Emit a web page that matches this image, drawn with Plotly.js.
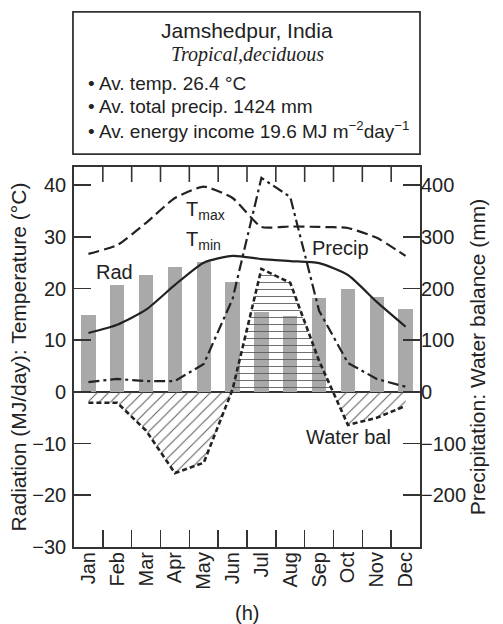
<!DOCTYPE html>
<html>
<head>
<meta charset="utf-8">
<script src="https://cdn.plot.ly/plotly-3.0.1.min.js"></script>
<style>html,body{margin:0;padding:0;background:#fff;}#chart{width:503px;height:624px;}</style>
</head>
<body>
<div id="chart"></div>
<script>
// ---- data ----
const months = ["Jan","Feb","Mar","Apr","May","Jun","Jul","Aug","Sep","Oct","Nov","Dec"];
const monthIdx = [1,2,3,4,5,6,7,8,9,10,11,12];
const monthEdges = [1.5,2.5,3.5,4.5,5.5,6.5,7.5,8.5,9.5,10.5,11.5];
const radiation = [14.9, 20.7, 22.6, 24.2, 25.1, 21.3, 15.5, 14.7, 18.2, 19.9, 18.4, 16.1]; // MJ/day
const tmax = [26.7, 28.4, 32.7, 37.5, 39.7, 37.5, 31.9, 32.0, 31.9, 31.7, 29.8, 26.3];     // °C
const tmin = [11.4, 13.0, 15.9, 20.7, 25.0, 26.3, 25.7, 25.3, 24.9, 22.6, 17.4, 12.6];     // °C
const precip = [19, 25, 21, 21, 54, 180, 414, 377, 157, 56, 25, 10];                       // mm
const waterBal = [-21, -21, -75, -157, -137, 5, 238, 211, 60, -64, -50, -27];              // mm
const leftTicks = [-30, -20, -10, 0, 10, 20, 30, 40];
const rightTicks = [-200, -100, 0, 100, 200, 300, 400];

// split water balance into positive / negative parts for the hatched fills
function splitSign(xs, ys, positive) {
  const ox = [], oy = [];
  for (let i = 0; i < xs.length; i++) {
    const v = ys[i];
    ox.push(xs[i]);
    oy.push(positive ? Math.max(v, 0) : Math.min(v, 0));
    if (i < xs.length - 1) {
      const a = ys[i], b = ys[i + 1];
      if ((a > 0 && b < 0) || (a < 0 && b > 0)) {
        const t = a / (a - b);
        ox.push(xs[i] + t * (xs[i + 1] - xs[i]));
        oy.push(0);
      }
    }
  }
  return {x: ox, y: oy};
}
const neg = splitSign(monthIdx, waterBal, false);
const pos = splitSign(monthIdx, waterBal, true);

const ink = '#222';
const F = 'Liberation Sans, Arial, Helvetica, sans-serif';

const traces = [
  {type: 'bar', x: monthIdx, y: radiation, width: 0.5, marker: {color: '#a9a9a9', line: {width: 0}},
   xaxis: 'x', yaxis: 'y', hoverinfo: 'skip', showlegend: false},
  {type: 'scatter', mode: 'lines', x: neg.x, y: neg.y, xaxis: 'x', yaxis: 'y2', line: {width: 0},
   fill: 'tozeroy', fillcolor: 'rgba(0,0,0,0)',
   fillpattern: {shape: '/', fgcolor: '#555', bgcolor: 'rgba(0,0,0,0)', size: 8, solidity: 0.12},
   hoverinfo: 'skip', showlegend: false},
  {type: 'scatter', mode: 'lines', x: pos.x, y: pos.y, xaxis: 'x', yaxis: 'y2', line: {width: 0},
   fill: 'tozeroy', fillcolor: 'rgba(0,0,0,0)',
   fillpattern: {shape: '-', fgcolor: '#555', bgcolor: 'rgba(0,0,0,0)', size: 7, solidity: 0.12},
   hoverinfo: 'skip', showlegend: false},
  {type: 'scatter', mode: 'lines', x: monthIdx, y: precip, xaxis: 'x', yaxis: 'y2',
   line: {color: ink, width: 2.2, dash: '11px,4px,3px,4px'}, showlegend: false},
  {type: 'scatter', mode: 'lines', x: monthIdx, y: waterBal, xaxis: 'x', yaxis: 'y2',
   line: {color: ink, width: 2.6, dash: '5px,3px'}, showlegend: false},
  {type: 'scatter', mode: 'lines', x: monthIdx, y: tmax, xaxis: 'x2', yaxis: 'y',
   line: {color: ink, width: 2.2, dash: '11px,5px', shape: 'spline', smoothing: 0.5}, showlegend: false},
  {type: 'scatter', mode: 'lines', x: monthIdx, y: tmin, xaxis: 'x2', yaxis: 'y',
   line: {color: ink, width: 2.2, shape: 'spline', smoothing: 0.6}, showlegend: false}
];

// inward tick marks along the top frame at the month boundaries
const topTicks = monthEdges.map(e => ({
  type: 'line', xref: 'x', yref: 'paper', x0: e, x1: e, y0: 1, y1: 1 - 15 / 380,
  layer: 'above', line: {color: '#333', width: 1.6}
}));

const layout = {
  width: 503, height: 624,
  margin: {l: 74, r: 83, t: 167, b: 77, pad: 0},
  paper_bgcolor: '#fff', plot_bgcolor: '#fff',
  font: {family: F, size: 20, color: ink},
  showlegend: false,
  bargap: 0,
  xaxis: {
    range: [0.5, 12.5], tickmode: 'array', tickvals: monthEdges, showticklabels: false,
    ticks: 'inside', ticklen: 17, tickwidth: 1.6, tickcolor: '#333',
    showgrid: false, zeroline: false,
    showline: true, mirror: true, linecolor: '#333', linewidth: 1.8,
    fixedrange: true
  },
  xaxis2: {
    overlaying: 'x', anchor: 'y', side: 'bottom',
    range: [0.5, 12.5], tickmode: 'array', tickvals: monthIdx, ticktext: months,
    tickangle: -90, ticks: '', showgrid: false, zeroline: false, showline: false,
    tickfont: {family: F, size: 20, color: ink}, fixedrange: true
  },
  yaxis: {
    range: [-30, 43.5], tickmode: 'array', tickvals: leftTicks,
    ticks: 'inside', ticklen: 17, tickwidth: 1.6, tickcolor: '#333',
    showgrid: false, zeroline: true, zerolinecolor: '#333', zerolinewidth: 1.5,
    showline: true, mirror: true, linecolor: '#333', linewidth: 1.8,
    ticklabelstandoff: 2,
    title: {text: 'Radiation (MJ/day): Temperature (°C)', font: {family: F, size: 21, color: ink}, standoff: 0},
    tickfont: {family: F, size: 20, color: ink}, fixedrange: true
  },
  yaxis2: {
    overlaying: 'y', side: 'right', range: [-300, 435], tickmode: 'array', tickvals: rightTicks,
    ticks: 'inside', ticklen: 17, tickwidth: 1.6, tickcolor: '#333',
    showgrid: false, zeroline: false, showline: false,
    ticklabelstandoff: 0,
    title: {text: 'Precipitation: Water balance (mm)', font: {family: F, size: 21, color: ink}, standoff: 0},
    tickfont: {family: F, size: 20, color: ink}, fixedrange: true
  },
  shapes: [
    {type: 'rect', xref: 'paper', yref: 'paper', x0: -0.003, x1: 1.0, y0: 1.034, y1: 1.408,
     line: {color: '#333', width: 1.8}, fillcolor: 'rgba(0,0,0,0)'}
  ].concat(topTicks),
  annotations: [
    {xref: 'paper', yref: 'paper', x: 0.5, y: 1.358, text: 'Jamshedpur, India', showarrow: false,
     xanchor: 'center', yanchor: 'middle', font: {family: F, size: 21, color: ink}},
    {xref: 'paper', yref: 'paper', x: 0.5, y: 1.295, text: '<i>Tropical,deciduous</i>', showarrow: false,
     xanchor: 'center', yanchor: 'middle', font: {family: 'Liberation Serif, Times New Roman, serif', size: 20, color: ink}},
    {xref: 'paper', yref: 'paper', x: 0.035, y: 1.221, text: '• Av. temp. 26.4 °C', showarrow: false,
     xanchor: 'left', yanchor: 'middle', font: {family: F, size: 19, color: ink}},
    {xref: 'paper', yref: 'paper', x: 0.035, y: 1.158, text: '• Av. total precip. 1424 mm', showarrow: false,
     xanchor: 'left', yanchor: 'middle', font: {family: F, size: 19, color: ink}},
    {xref: 'paper', yref: 'paper', x: 0.035, y: 1.097, text: '• Av. energy income 19.6 MJ m<sup>−2</sup>day<sup>−1</sup>', showarrow: false,
     xanchor: 'left', yanchor: 'middle', font: {family: F, size: 19, color: ink}},
    {xref: 'x', yref: 'y', x: 4.32, y: 35.0, text: 'T<sub>max</sub>', showarrow: false,
     xanchor: 'left', yanchor: 'middle', font: {family: F, size: 20, color: ink}},
    {xref: 'x', yref: 'y', x: 4.32, y: 29.2, text: 'T<sub>min</sub>', showarrow: false,
     xanchor: 'left', yanchor: 'middle', font: {family: F, size: 20, color: ink}},
    {xref: 'x', yref: 'y', x: 1.92, y: 23.2, text: 'Rad', showarrow: false,
     xanchor: 'center', yanchor: 'middle', font: {family: F, size: 20, color: ink}},
    {xref: 'x', yref: 'y', x: 8.69, y: 27.9, text: 'Precip', showarrow: false,
     xanchor: 'left', yanchor: 'middle', font: {family: F, size: 20, color: ink}},
    {xref: 'x', yref: 'y', x: 8.48, y: -8.7, text: 'Water bal', showarrow: false,
     xanchor: 'left', yanchor: 'middle', font: {family: F, size: 20, color: ink}},
    {xref: 'paper', yref: 'paper', x: 0.5, y: -0.173, text: '(h)', showarrow: false,
     xanchor: 'center', yanchor: 'middle', font: {family: F, size: 20, color: ink}}
  ]
};

Plotly.newPlot('chart', traces, layout, {staticPlot: true, displayModeBar: false});
</script>
</body>
</html>
